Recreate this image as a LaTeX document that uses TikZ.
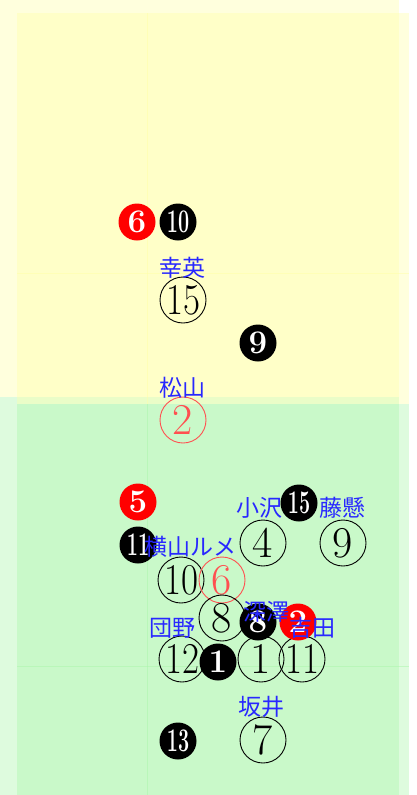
\documentclass[tikz,border=0pt]{standalone}
\usepackage{fontspec}
\newfontfamily\cjk{Noto Sans CJK JP}
\definecolor{yfill}{RGB}{255,255,166}
\definecolor{gfill}{RGB}{168,245,168}
\definecolor{labblue}{RGB}{40,40,255}
\definecolor{ored}{RGB}{255,80,80}
\tikzset{
  oc/.style={circle, draw=black, line width=0.9pt, minimum size=46pt, inner sep=0pt, font=\fontsize{44}{44}\selectfont},
  ocr/.style={oc, draw=ored, text=ored},
  fc/.style={circle, fill=black, minimum size=37pt, inner sep=0pt, text=white, font=\fontsize{33}{33}\selectfont\bfseries},
  fcr/.style={fc, fill=red},
  lab/.style={text=labblue, inner sep=0pt, font=\cjk\fontsize{23}{23}\selectfont},
  gridy/.style={draw=yfill, line width=0.8pt, opacity=0.5},
  gridg/.style={draw=gfill, line width=0.8pt, opacity=0.5}
}
\begin{document}
\begin{tikzpicture}[x=1pt,y=-1pt]
\useasboundingbox (0,0) rectangle (417,795);
% background layers
\fill[yfill, opacity=.38] (0,0) rectangle (399,397);
\fill[gfill, opacity=.38] (0,397) rectangle (399,795);
\fill[yfill, opacity=.38] (17,13) rectangle (409,404);
\fill[gfill, opacity=.38] (17,404) rectangle (409,795);
\draw[gridy] (147,13) -- (147,404);
\draw[gridy] (17,273) -- (409,273);
\draw[gridg] (147,404) -- (147,795);
\draw[gridg] (17,666) -- (409,666);
% outline circles
\node[oc]  (c15) at (183,300) {\scalebox{0.84}[1]{15}};
\node[ocr] (c2)  at (183,420) {2};
\node[oc]  (c4)  at (263,543) {4};
\node[oc]  (c9)  at (343,543) {9};
\node[oc]  (c10) at (181,580) {\scalebox{0.84}[1]{10}};
\node[ocr] (c6)  at (222,580) {6};
\node[oc]  (c8)  at (222,618) {8};
\node[oc]  (c12) at (182,659) {\scalebox{0.84}[1]{12}};
\node[oc]  (c1)  at (261,659) {1};
\node[oc]  (c11) at (302,659) {\scalebox{0.84}[1]{11}};
\node[oc]  (c7)  at (263,740) {7};
% filled circles
\node[fcr] (f6)  at (137,222) {6};
\node[fc]  (f10) at (178,222) {\scalebox{0.6}[1]{10}};
\node[fc]  (f9)  at (258,343) {9};
\node[fcr] (f5)  at (138,502) {5};
\node[fc]  (f15) at (299,503) {\scalebox{0.6}[1]{15}};
\node[fc]  (f11) at (138,545) {\scalebox{0.6}[1]{11}};
\node[fc]  (f8)  at (258,622) {8};
\node[fcr] (f2)  at (298,622) {2};
\node[fc]  (f1)  at (218,662) {1};
\node[fc]  (f13) at (178,741) {\scalebox{0.6}[1]{13}};
% labels
\node[lab] (l1) at (182,268) {幸英};
\node[lab] (l2) at (182,388) {松山};
\node[lab] (l3) at (259,508) {小沢};
\node[lab] (l4) at (342,508) {藤懸};
\node[lab] (l5) at (190,547) {横山ルメ};
\node[lab] (l6) at (172,628) {団野};
\node[lab] (l7) at (266,612) {深澤};
\node[lab] (l8) at (312,628) {吉田};
\node[lab] (l9) at (261,707) {坂井};
\end{tikzpicture}
\end{document}
